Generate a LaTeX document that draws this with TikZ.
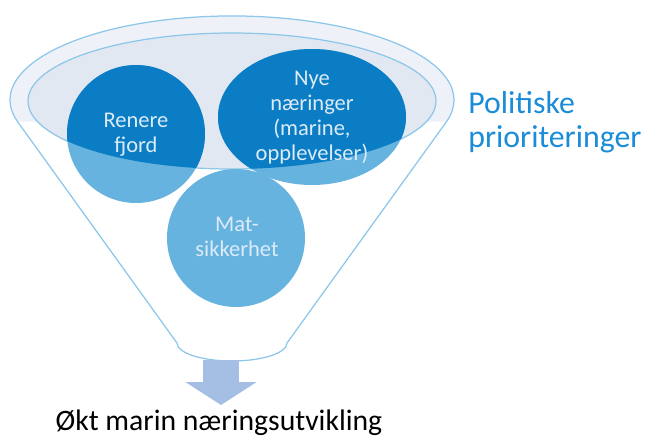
\documentclass[tikz,border=0pt]{standalone}
\usepackage{fontspec}
\setmainfont{Carlito}
\usetikzlibrary{arrows.meta}
\definecolor{bleufonce}{HTML}{0B7DC5}
\definecolor{bleuclair}{HTML}{66B3DF}
\definecolor{bord}{HTML}{8CC6EA}
\definecolor{anneau}{HTML}{EEF2F8}
\definecolor{interieur}{HTML}{E2E8F2}
\definecolor{texteclair}{HTML}{DCEBF7}
\definecolor{titre}{HTML}{1A8CD8}
\definecolor{fleche}{HTML}{A4BEE4}

\begin{document}
\begin{tikzpicture}[x=0.02cm,y=-0.02cm,
    rond/.style={text=texteclair,align=center,inner sep=0pt,
      font=\fontsize{12.8}{14.2}\selectfont},
    trait/.style={draw=bord,line width=0.7pt},
    grossefleche/.style={fleche,line width=21pt,
      -{Triangle[width=39.7pt,length=13pt]}}]
        \useasboundingbox (0,0) rectangle (649,437);

        % Entonnoir
        \fill[white] (17.6,121.7) arc[start angle=165,end angle=375,x radius=222,y radius=84]
            -- (287,343) arc[start angle=0,end angle=180,x radius=55,y radius=18] -- cycle;
        \fill[anneau] (17.6,121.7) arc[start angle=165,end angle=375,x radius=222,y radius=84]
            -- (426.4,121.7) arc[start angle=17.7,end angle=162.3,x radius=204,y radius=68] -- cycle;
        \filldraw[trait,fill=interieur] (232,101) ellipse[x radius=204,y radius=68];
        \draw[trait] (17.6,121.7) arc[start angle=165,end angle=375,x radius=222,y radius=84]
            -- (287,343) arc[start angle=0,end angle=180,x radius=55,y radius=18] -- cycle;

        % Cercles
        \fill[bleuclair] (136,134) circle[radius=69];
        \fill[bleuclair] (312,117) ellipse[x radius=94,y radius=68];
        \fill[bleuclair] (236,238) circle[radius=69];
        \begin{scope}
            \clip (232,101) ellipse[x radius=204,y radius=68];
            \fill[bleufonce] (136,134) circle[radius=69];
            \fill[bleufonce] (312,117) ellipse[x radius=94,y radius=68];
        \end{scope}

        % Textes
        \node[rond] (renere) at (136,135) {Renere\\fjord};
        \node[rond] (nye) at (312,118) {Nye\\næringer\\(marine,\\opplevelser)};
        \node[rond] (mat) at (237,237) {Mat-\\sikkerhet};
        \node[anchor=west,text=titre,align=left,inner sep=0pt,
            font=\fontsize{18.1}{19.3}\selectfont] (prio) at (468,122) {Politiske\\prioriteringer};
        \node[anchor=base,inner sep=0pt,font=\fontsize{16.9}{20}\selectfont] (resultat) at (219,430)
            {Økt marin næringsutvikling};

        % Fleche
        \coordinate (tut) at (221,360);
        \coordinate (pointe) at (221,405);
        \draw[grossefleche] (tut) -- (pointe);
    \end{tikzpicture}
\end{document}
